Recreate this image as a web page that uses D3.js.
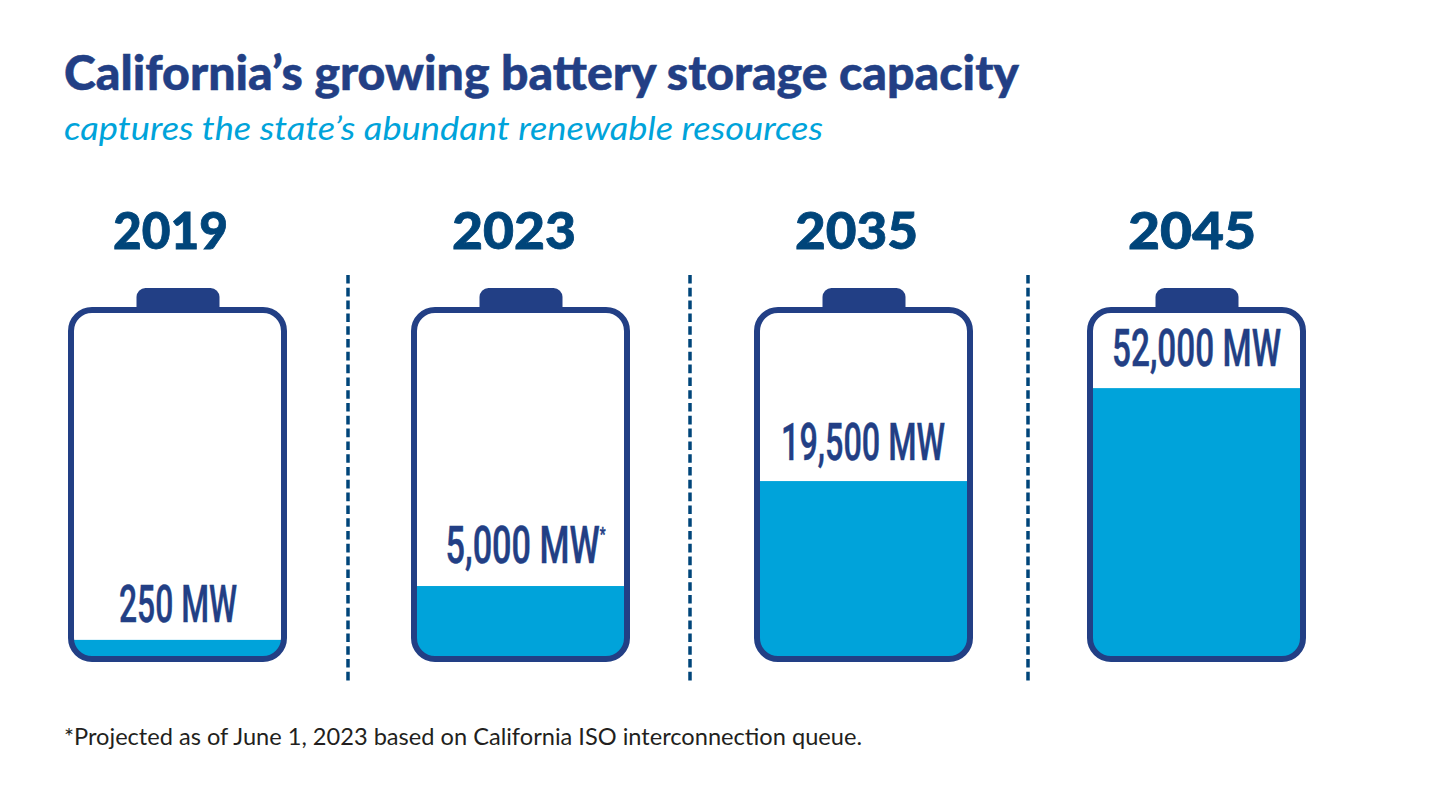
<!DOCTYPE html>
<html><head><meta charset="utf-8">
<script src="https://cdn.jsdelivr.net/npm/d3@7/dist/d3.min.js"></script>
<style>html,body{margin:0;background:#fff}svg{display:block}</style>
</head><body><svg id="c" width="1448" height="789"></svg>
<script>
const years = ["2019","2023","2035","2045"];
const capacityMW = [250,5000,19500,52000];
const labels = ["250 MW","5,000 MW","19,500 MW","52,000 MW"];
const footMarks = ["","*","",""];
// The source's batteries are illustrative, not proportional: charge level
const chargeLevel = [0.047,0.204,0.51,0.781];

const navy="#223F85", blue="#00A3DA", deep="#00457A";
const svg=d3.select("#c");
const batteryLeft=[68,411,754,1087], bw=219, topY=307, bottomY=662, sw=6;
const yearMid=[170.5,514,856.5,1192], yearW=[115,124,123,128];
const labelStart=[119,445.5,781,1112], labelW=[118,160,164,169], labelGap=[18,23,21,22];
const x=d3.scaleOrdinal().domain(years).range(batteryLeft);
const level=d3.scaleLinear().domain([0,1]).range([bottomY-sw,topY+sw]);

function fit(sel,w){return sel.attr("textLength",w).attr("lengthAdjust","spacingAndGlyphs");}

fit(svg.append("text").attr("x",64).attr("y",90).attr("font-family","Lato").attr("font-weight",900)
  .attr("font-size",47).attr("fill",navy).attr("stroke",navy).attr("stroke-width",0.5).text("California’s growing battery storage capacity"),955);
fit(svg.append("text").attr("x",64).attr("y",140).attr("font-family","Lato").attr("font-style","italic").attr("font-weight",400)
  .attr("font-size",33).attr("fill",blue).text("captures the state’s abundant renewable resources"),759);
fit(svg.append("text").attr("x",64).attr("y",745).attr("font-family","Lato")
  .attr("font-size",22.5).attr("fill","#231F20").text("*Projected as of June 1, 2023 based on California ISO interconnection queue."),798);

const defs=svg.append("defs");
const rr=(x0,y0,w,h,r)=>`M${x0+r},${y0}H${x0+w-r}A${r},${r} 0 0 1 ${x0+w},${y0+r}V${y0+h-r}A${r},${r} 0 0 1 ${x0+w-r},${y0+h}H${x0+r}A${r},${r} 0 0 1 ${x0},${y0+h-r}V${y0+r}A${r},${r} 0 0 1 ${x0+r},${y0}Z`;

years.forEach((yr,i)=>{
  const X=x(yr), g=svg.append("g");
  const cid="clip"+i;
  defs.append("clipPath").attr("id",cid).append("path").attr("d",rr(X+sw/2,topY+sw/2,bw-sw,bottomY-topY-sw,21));
  const yTop=level(chargeLevel[i]);
  g.append("rect").attr("clip-path",`url(#${cid})`).attr("x",X).attr("y",yTop).attr("width",bw).attr("height",bottomY-yTop).attr("fill",blue);
  g.append("path").attr("d",rr(X+sw/2,topY+sw/2,bw-sw,bottomY-topY-sw,21)).attr("fill","none").attr("stroke",navy).attr("stroke-width",sw);
  const cx=X+68.5,cw=83,cy=288,ch=25,r=9;
  g.append("path").attr("d",`M${cx},${cy+ch}V${cy+r}A${r},${r} 0 0 1 ${cx+r},${cy}H${cx+cw-r}A${r},${r} 0 0 1 ${cx+cw},${cy+r}V${cy+ch}Z`).attr("fill",navy);

  fit(g.append("text").attr("x",yearMid[i]).attr("y",249).attr("text-anchor","middle").attr("font-family","Lato")
    .attr("font-weight",900).attr("font-size",51).attr("fill",deep).attr("stroke",deep).attr("stroke-width",0.8).text(yr),yearW[i]);

  const t=g.append("text").attr("x",labelStart[i]).attr("y",yTop-labelGap[i]).attr("font-family","Roboto")
    .attr("font-weight",500).attr("font-size",51).attr("fill",navy).attr("stroke",navy).attr("stroke-width",0.5);
  t.append("tspan").text(labels[i]);
  if(footMarks[i]) t.append("tspan").attr("dy",-23).attr("font-size",19).attr("font-weight",700).text(footMarks[i]);
  fit(t,labelW[i]);
});

svg.selectAll("line.sep").data([348,690,1028]).join("line").attr("class","sep")
  .attr("x1",d=>d).attr("x2",d=>d).attr("y1",275).attr("y2",681)
  .attr("stroke",deep).attr("stroke-width",3.5).attr("stroke-dasharray","8.6 4.2");
</script></body></html>
